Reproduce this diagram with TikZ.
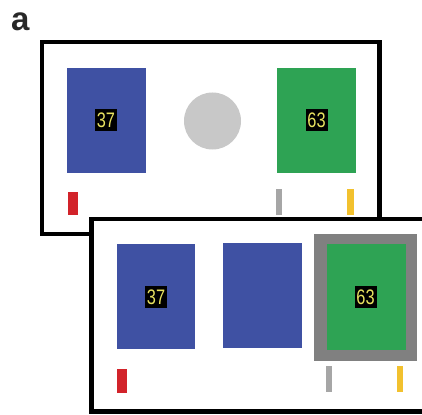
\documentclass[tikz,border=0pt]{standalone}
\usepackage{fontspec}
\setmainfont{Liberation Sans}
\definecolor{cblue}{RGB}{63,81,163}
\definecolor{cgreen}{RGB}{46,163,84}
\definecolor{cred}{RGB}{210,35,42}
\definecolor{cgraybar}{RGB}{166,166,166}
\definecolor{cyellowbar}{RGB}{242,193,46}
\definecolor{cframe}{RGB}{128,128,128}
\definecolor{ccircle}{RGB}{200,200,200}
\definecolor{clabel}{RGB}{232,226,96}
\definecolor{cletter}{RGB}{40,40,40}
\tikzset{
  frame/.style={draw=black, line width=4.5pt, fill=white},
  numlabel/.style={fill=black, text=clabel, inner sep=0pt, minimum width=22pt, minimum height=22pt,
    font=\fontsize{21}{21}\selectfont},
}
\newcommand{\narrow}[1]{\scalebox{0.78}[1]{#1}}
\begin{document}
\begin{tikzpicture}[x=1pt,y=-1pt]
\useasboundingbox (0,0) rectangle (422,414);
\clip (0,0) rectangle (422,414);
\fill[white] (0,0) rectangle (422,414);
% panel letter
\node[anchor=base west, inner sep=0pt, text=cletter, font=\fontsize{33}{33}\selectfont\bfseries] (lettera) at (11,31) {a};
% first frame
\draw[frame] (42,42) rectangle (379.5,234);
\fill[cblue] (67,68) rectangle (146,173);
\node[numlabel] (l37a) at (106,120) {\narrow{37}};
\fill[ccircle] (212.5,121) circle (28.5);
\fill[cgreen] (277,68) rectangle (356,173);
\node[numlabel] (l63a) at (316.5,120) {\narrow{63}};
\fill[cred] (68,192) rectangle (78,215);
\fill[cgraybar] (276,189) rectangle (282,215);
\fill[cyellowbar] (347,189) rectangle (354,215);
% second frame
\draw[frame] (91.5,219) rectangle (440,411.5);
\fill[cblue] (117,244) rectangle (195,349);
\node[numlabel] (l37b) at (156,297) {\narrow{37}};
\fill[cblue] (223,243) rectangle (302,348);
\fill[cframe] (314,234) rectangle (417,361);
\fill[cgreen] (327,244) rectangle (406,350);
\node[numlabel] (l63b) at (365.5,297) {\narrow{63}};
\fill[cred] (117,369) rectangle (127,393);
\fill[cgraybar] (326,366) rectangle (332,392);
\fill[cyellowbar] (397,366) rectangle (403,392);
\end{tikzpicture}
\end{document}
